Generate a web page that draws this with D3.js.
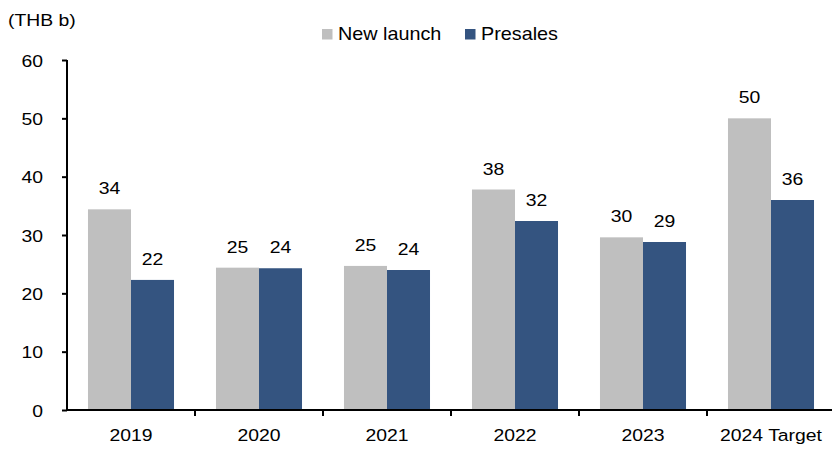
<!DOCTYPE html>
<html>
<head>
<meta charset="utf-8">
<script src="https://cdn.jsdelivr.net/npm/d3@7/dist/d3.min.js"></script>
<style>
  html, body { margin: 0; padding: 0; background: #fff; }
  svg { display: block; font-family: "Liberation Sans", Arial, sans-serif; }
</style>
</head>
<body>
<svg id="chart" width="832" height="450"></svg>
<script>
const categories = ["2019", "2020", "2021", "2022", "2023", "2024 Target"];
const seriesNames = ["New launch", "Presales"];
const newLaunch = [34.4, 24.4, 24.7, 37.8, 29.6, 50.0];
const presales = [22.3, 24.3, 24.0, 32.4, 28.8, 36.0];
const labelsNewLaunch = ["34", "25", "25", "38", "30", "50"];
const labelsPresales = ["22", "24", "24", "32", "29", "36"];
const yTicks = [0, 10, 20, 30, 40, 50, 60];
const unitLabel = "(THB b)";

const colors = ["#bfbfbf", "#345480"];
const FS = 17, SX = 1.14;
const svg = d3.select("#chart");

// helper: horizontally stretched text anchored at (x,y)
function stretchedText(parent, x, y, str, anchor, fs, sx) {
  return parent.append("text")
    .attr("transform", `translate(${x},${y}) scale(${sx},1)`)
    .attr("text-anchor", anchor)
    .attr("font-size", fs)
    .attr("fill", "#000")
    .text(str);
}

const x0 = 67, x1 = 835, yTop = 60, yBottom = 410;
const x = d3.scaleBand().domain(categories).range([x0, x1]).paddingInner(0).paddingOuter(0);
const xs = d3.scaleBand().domain(seriesNames).range([0, x.bandwidth()]).paddingInner(0).paddingOuter(0.488);
const y = d3.scaleLinear().domain([0, 60]).range([yBottom, yTop]);

const data = [newLaunch, presales];
const labels = [labelsNewLaunch, labelsPresales];

// bars + labels
seriesNames.forEach((s, si) => {
  svg.append("g").selectAll("rect").data(categories).join("rect")
    .attr("x", d => x(d) + xs(s))
    .attr("y", (d, i) => y(data[si][i]))
    .attr("width", xs.bandwidth())
    .attr("height", (d, i) => y(0) - y(data[si][i]))
    .attr("fill", colors[si]);
  const lg = svg.append("g");
  categories.forEach((c, i) => {
    stretchedText(lg, x(c) + xs(s) + xs.bandwidth() / 2, y(data[si][i]) - 15, labels[si][i], "middle", FS, SX);
  });
});

// y axis
const yAxis = svg.append("g").attr("transform", `translate(${x0},0)`)
  .call(d3.axisLeft(y).tickValues(yTicks).tickSize(5).tickPadding(19));
yAxis.select(".domain").attr("stroke", "#000").attr("stroke-width", 2).attr("d", `M0,${yTop}V${yBottom}`);
yAxis.selectAll(".tick line").attr("stroke", "#000").attr("stroke-width", 2);
yAxis.selectAll(".tick text")
  .attr("font-size", FS).attr("font-family", "Liberation Sans, Arial, sans-serif").attr("fill", "#000")
  .attr("x", -24 / SX).attr("dy", "0.36em")
  .attr("transform", `scale(${SX},1)`);

// x axis
const xAxis = svg.append("g").attr("transform", `translate(0,${yBottom})`)
  .call(d3.axisBottom(x).tickSize(0).tickPadding(0));
xAxis.select(".domain").attr("stroke", "#000").attr("stroke-width", 2).attr("d", `M${x0},0H${x1}`);
xAxis.selectAll(".tick text")
  .attr("font-size", FS).attr("font-family", "Liberation Sans, Arial, sans-serif").attr("fill", "#000")
  .attr("y", 31).attr("dy", 0)
  .attr("transform", `scale(${SX},1)`);
// category boundary ticks
svg.append("g").selectAll("line").data(categories.slice(1)).join("line")
  .attr("x1", d => x(d)).attr("x2", d => x(d))
  .attr("y1", yBottom).attr("y2", yBottom + 6)
  .attr("stroke", "#000").attr("stroke-width", 2);

// unit label
stretchedText(svg, 8, 26, unitLabel, "start", FS, SX);

// legend
const legendPos = [322, 465];
seriesNames.forEach((s, i) => {
  const g = svg.append("g").attr("transform", `translate(${legendPos[i]},29)`);
  g.append("rect").attr("width", 10.5).attr("height", 10.5).attr("fill", colors[i]);
  stretchedText(g, 16, 11, s, "start", 18, 1.1);
});
</script>
</body>
</html>
